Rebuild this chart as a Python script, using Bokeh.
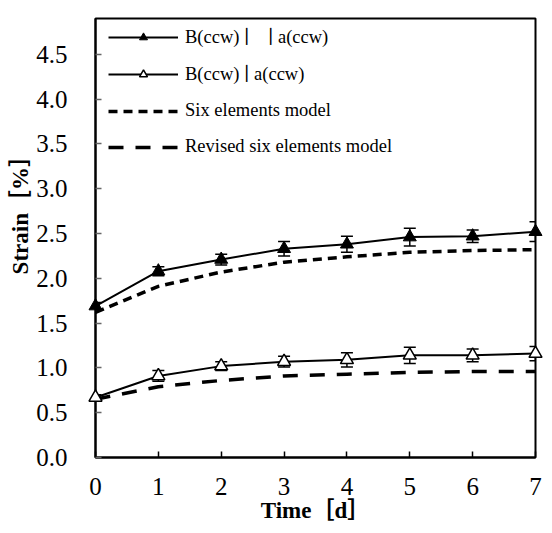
from bokeh.plotting import figure
from bokeh.models import (ColumnDataSource, Whisker, TeeHead, Legend, LegendItem,
                          FixedTicker, CustomJSTickFormatter)
from bokeh.embed import file_html
from bokeh.resources import INLINE

days = [0, 1, 2, 3, 4, 5, 6, 7]
parallel = [1.69, 2.08, 2.21, 2.33, 2.38, 2.46, 2.47, 2.52]
parallel_err = [0.04, 0.05, 0.06, 0.08, 0.09, 0.10, 0.07, 0.11]
perp = [0.67, 0.91, 1.02, 1.07, 1.09, 1.14, 1.14, 1.16]
perp_err = [0.03, 0.06, 0.05, 0.06, 0.08, 0.09, 0.07, 0.08]
six_model = [1.62, 1.91, 2.07, 2.18, 2.24, 2.29, 2.31, 2.32]
revised_model = [0.65, 0.79, 0.86, 0.91, 0.93, 0.95, 0.96, 0.96]

x_ticks = [0, 1, 2, 3, 4, 5, 6, 7]
y_ticks = [0.0, 0.5, 1.0, 1.5, 2.0, 2.5, 3.0, 3.5, 4.0, 4.5]

labels = ["B(ccw) \u2223\u2003\u2223 a(ccw)", "B(ccw) \u2223 a(ccw)",
          "Six elements model", "Revised six elements model"]
x_title = "Time［d］"
y_title = "Strain［%］"

SERIF = "'Liberation Serif', 'DejaVu Serif', 'Noto Sans CJK JP', serif"

p = figure(width=544, height=525, x_range=(0, 7), y_range=(0, 4.9),
           output_backend="svg", toolbar_location=None,
           min_border_left=95, min_border_right=9, min_border_top=18, min_border_bottom=67)
p.background_fill_color = "white"
p.border_fill_color = "white"
p.outline_line_color = "black"
p.outline_line_width = 2
p.xgrid.visible = False
p.ygrid.visible = False

src_par = ColumnDataSource(dict(x=days, y=parallel,
                                lo=[v - e for v, e in zip(parallel, parallel_err)],
                                hi=[v + e for v, e in zip(parallel, parallel_err)]))
src_perp = ColumnDataSource(dict(x=days, y=perp,
                                 lo=[v - e for v, e in zip(perp, perp_err)],
                                 hi=[v + e for v, e in zip(perp, perp_err)]))

# model curves
r_six = p.line(days, six_model, line_color="black", line_width=3.5, line_dash="9 6")
r_rev = p.line(days, revised_model, line_color="black", line_width=3.5, line_dash="15 12")

# error bars
for src in (src_par, src_perp):
    w = Whisker(source=src, base="x", upper="hi", lower="lo", dimension="height",
                line_color="black", line_width=1.5,
                upper_head=TeeHead(size=12, line_color="black", line_width=1.5),
                lower_head=TeeHead(size=12, line_color="black", line_width=1.5))
    p.add_layout(w)

r_par_l = p.line("x", "y", source=src_par, line_color="black", line_width=2)
r_par_m = p.scatter("x", "y", source=src_par, marker="triangle", size=13,
                    fill_color="black", line_color="black", line_width=1, level="overlay")
r_perp_l = p.line("x", "y", source=src_perp, line_color="black", line_width=2)
r_perp_m = p.scatter("x", "y", source=src_perp, marker="triangle", size=13,
                     fill_color="white", line_color="black", line_width=1.5, level="overlay")

legend = Legend(items=[
    LegendItem(label=labels[0], renderers=[r_par_l, r_par_m]),
    LegendItem(label=labels[1], renderers=[r_perp_l, r_perp_m]),
    LegendItem(label=labels[2], renderers=[r_six]),
    LegendItem(label=labels[3], renderers=[r_rev]),
], location=(13, 300))
legend.margin = 0
legend.padding = 0
legend.spacing = 15
legend.glyph_width = 70
legend.glyph_height = 20
legend.label_height = 20
legend.label_standoff = 7
legend.label_text_font = SERIF
legend.label_text_font_size = "18.5px"
legend.label_text_color = "black"
legend.border_line_color = None
legend.background_fill_alpha = 0
p.add_layout(legend)

p.xaxis.ticker = FixedTicker(ticks=x_ticks)
p.yaxis.ticker = FixedTicker(ticks=y_ticks)
p.yaxis.formatter = CustomJSTickFormatter(code="return tick.toFixed(1);")

for ax in (p.xaxis[0], p.yaxis[0]):
    ax.axis_line_color = "black"
    ax.axis_line_width = 2
    ax.major_tick_in = 6
    ax.major_tick_out = 0
    ax.minor_tick_in = 0
    ax.minor_tick_out = 0
    ax.major_label_text_font = SERIF
    ax.major_label_text_font_size = "25px"
    ax.major_label_text_color = "black"
    ax.axis_label_text_font = SERIF
    ax.axis_label_text_font_size = "23px"
    ax.axis_label_text_font_style = "bold"
    ax.axis_label_text_color = "black"

p.xaxis.major_tick_line_color = "black"
p.xaxis.major_tick_line_width = 1.5
p.yaxis.major_tick_line_color = "#666666"
p.yaxis.major_tick_line_width = 1.5
p.xaxis.major_label_standoff = 20
p.yaxis.major_label_standoff = 28
p.xaxis.axis_label = x_title
p.xaxis.axis_label_standoff = 0
# leading wide spaces lift the rotated title above the frame centre, as in the original
p.yaxis.axis_label = "\u2003\u2003\u2002" + y_title
p.yaxis.axis_label_standoff = 0

open("out.html", "w").write(file_html(p, INLINE))
